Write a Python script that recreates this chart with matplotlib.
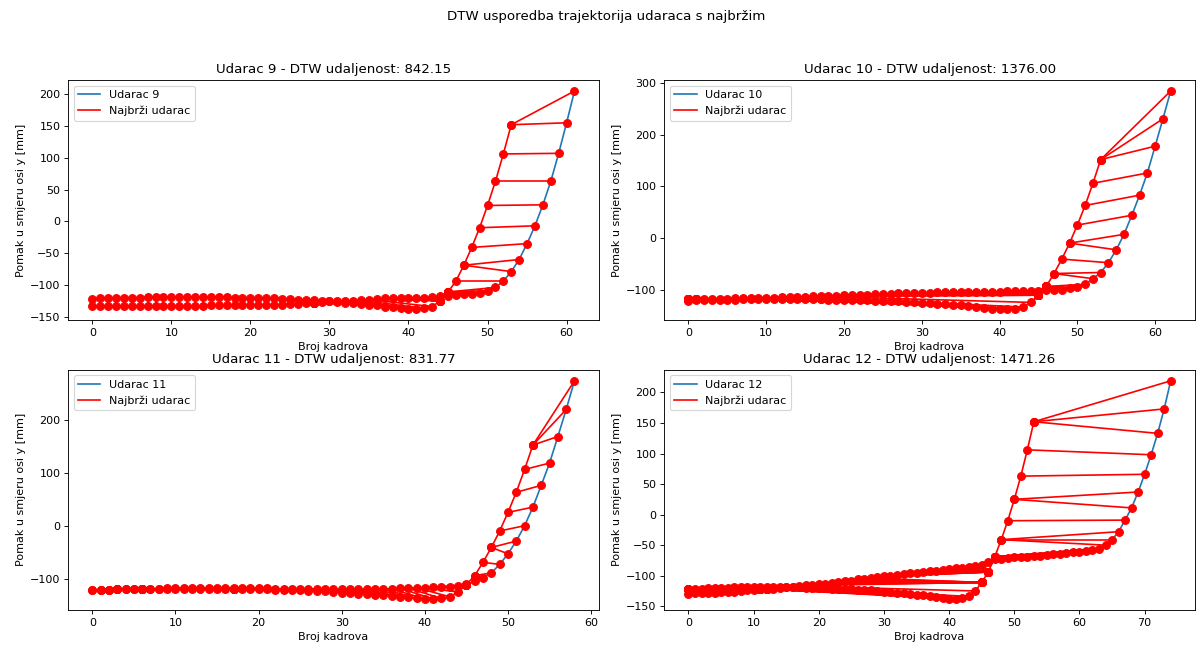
from collections import defaultdict

import matplotlib
matplotlib.use("Agg")
import matplotlib.pyplot as plt

# najbrzi udarac (referentna trajektorija), pomak po y [mm] po kadru
najbrzi = [-122, -121, -121, -120, -120, -120, -120, -119, -119, -119,
           -119, -119, -119, -119, -119, -119, -119, -119, -120, -120,
           -120, -120, -121, -121, -122, -122, -123, -123, -124, -125,
           -126, -127, -128, -129, -130, -131, -132, -134, -135, -137,
           -138, -138, -137, -134, -125, -111, -94, -69, -41, -10,
           25, 63, 106, 152]

udarac_9 = [-133, -133, -133, -133, -133, -133, -133, -133, -133, -133,
            -133, -133, -133, -133, -133, -132, -132, -132, -132, -132,
            -132, -132, -132, -131, -131, -130, -130, -129, -128, -127,
            -126, -126, -125, -125, -124, -123, -122, -121, -120, -120,
            -120, -120, -120, -119, -118, -117, -116, -115, -115, -113,
            -109, -104, -94, -79, -60, -35, -7, 26, 63, 107,
            155, 205]

udarac_10 = [-119, -119, -118, -118, -118, -118, -117, -117, -117, -116,
             -116, -116, -115, -115, -114, -114, -113, -113, -112, -112,
             -111, -111, -110, -110, -109, -108, -108, -107, -107, -106,
             -106, -106, -105, -105, -105, -105, -104, -104, -104, -104,
             -104, -103, -103, -103, -103, -102, -100, -100, -100, -98,
             -96, -90, -79, -67, -48, -23, 7, 44, 83, 126,
             178, 231, 285]

udarac_11 = [-122, -121, -121, -120, -120, -120, -119, -119, -119, -118,
             -118, -117, -117, -117, -117, -117, -118, -118, -118, -118,
             -118, -118, -119, -119, -119, -119, -119, -119, -120, -120,
             -120, -120, -120, -120, -119, -119, -119, -118, -118, -117,
             -117, -116, -116, -115, -113, -110, -105, -98, -89, -73,
             -53, -29, 0, 35, 76, 118, 168, 219, 273]

udarac_12 = [-130, -129, -129, -128, -128, -127, -126, -126, -125, -124,
             -123, -122, -122, -121, -120, -119, -118, -117, -116, -115,
             -114, -113, -112, -110, -109, -108, -106, -105, -104, -102,
             -101, -100, -99, -97, -96, -95, -94, -93, -92, -91,
             -89, -88, -87, -86, -84, -82, -78, -73, -72, -71,
             -70, -69, -69, -68, -67, -66, -65, -64, -63, -62,
             -61, -60, -58, -56, -50, -41, -28, -9, 11, 37,
             66, 98, 133, 173, 219]

udarci = [udarac_9, udarac_10, udarac_11, udarac_12]
brojevi = [9, 10, 11, 12]
udaljenosti = [842.15, 1376.00, 831.77, 1471.26]


# FastDTW (radius 1, absolute difference)
def _dtw(x, y, window=None):
    if window is None:
        window = [(i, j) for i in range(len(x)) for j in range(len(y))]
    D = defaultdict(lambda: (float('inf'),))
    D[0, 0] = (0, 0, 0)
    for i, j in ((i + 1, j + 1) for i, j in window):
        dt = abs(x[i - 1] - y[j - 1])
        D[i, j] = min((D[i - 1, j][0] + dt, i - 1, j),
                      (D[i, j - 1][0] + dt, i, j - 1),
                      (D[i - 1, j - 1][0] + dt, i - 1, j - 1),
                      key=lambda a: a[0])
    path = []
    i, j = len(x), len(y)
    while not (i == j == 0):
        path.append((i - 1, j - 1))
        i, j = D[i, j][1], D[i, j][2]
    path.reverse()
    return D[len(x), len(y)][0], path


def _half(x):
    return [(x[i] + x[i + 1]) / 2 for i in range(0, len(x) - len(x) % 2, 2)]


def _expand_window(path, len_x, len_y, radius):
    path_ = set(path)
    for i, j in path:
        for a in range(-radius, radius + 1):
            for b in range(-radius, radius + 1):
                path_.add((i + a, j + b))
    window_ = set()
    for i, j in path_:
        for a, b in ((i * 2, j * 2), (i * 2, j * 2 + 1),
                     (i * 2 + 1, j * 2), (i * 2 + 1, j * 2 + 1)):
            window_.add((a, b))
    window = []
    start_j = 0
    for i in range(len_x):
        new_start_j = None
        for j in range(start_j, len_y):
            if (i, j) in window_:
                window.append((i, j))
                if new_start_j is None:
                    new_start_j = j
            elif new_start_j is not None:
                break
        start_j = new_start_j
    return window


def fastdtw(x, y, radius=1):
    if len(x) < radius + 2 or len(y) < radius + 2:
        return _dtw(x, y)
    _, path = fastdtw(_half(x), _half(y), radius)
    window = _expand_window(path, len(x), len(y), radius)
    return _dtw(x, y, window)


# original was drawn larger and shrunk, so render at 80 dpi
fig, axes = plt.subplots(2, 2, figsize=(1196 / 80, 646 / 80), dpi=80)
fig.suptitle('DTW usporedba trajektorija udaraca s najbržim', x=0.507, y=0.985)

for ax, u, br, d in zip(axes.flat, udarci, brojevi, udaljenosti):
    ax.plot(u, label=f'Udarac {br}')
    ax.plot(najbrzi, 'r', label='Najbrži udarac')
    _, path = fastdtw(u, najbrzi)
    for i, j in path:
        ax.plot([i, j], [u[i], najbrzi[j]], 'ro-', markersize=7)
    ax.set_title(f'Udarac {br} - DTW udaljenost: {d:.2f}')
    ax.set_xlabel('Broj kadrova')
    ax.set_ylabel('Pomak u smjeru osi y [mm]')
    ax.legend(loc='upper left')

fig.subplots_adjust(left=0.057, right=0.999, top=0.876, bottom=0.056,
                    wspace=0.124, hspace=0.208)
plt.savefig('out.png')
